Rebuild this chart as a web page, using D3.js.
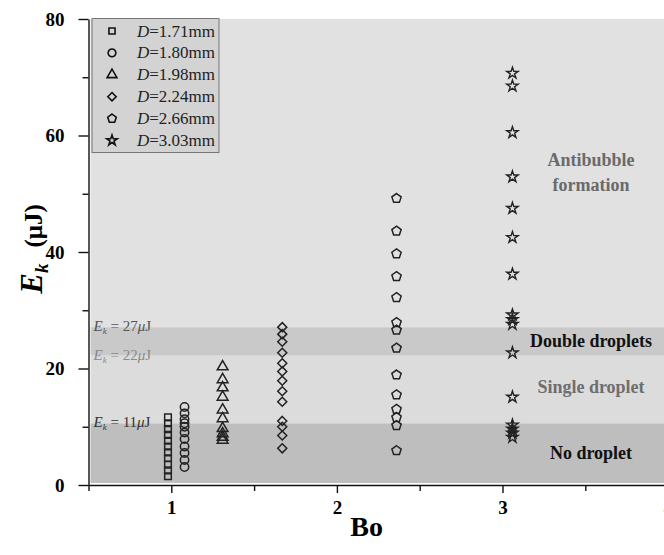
<!DOCTYPE html>
<html>
<head>
<meta charset="utf-8">
<script src="https://cdn.jsdelivr.net/npm/d3@7"></script>
<style>
  html, body { margin: 0; padding: 0; background: #fff; }
  svg { display: block; }
  svg text { font-family: "Liberation Serif", "DejaVu Serif", serif; }
</style>
</head>
<body>
<svg id="chart" width="664" height="555"></svg>
<script>
// droplet diameters (mm) and Bo position of each column
const diameters = ["1.71", "1.80", "1.98", "2.24", "2.66", "3.03"]
const boValues = [0.98, 1.08, 1.31, 1.67, 2.36, 3.06]

// kinetic energy readings Ek (uJ) per diameter
const ek171 = [11.6, 10.6, 9.6, 8.6, 7.6, 6.6, 5.6, 4.6, 3.5, 2.5, 1.5]
const ek180 = [13.4, 12.3, 11.3, 10.6, 10.0, 9.0, 7.9, 6.6, 5.5, 4.3, 3.1]
const ek198 = [20.3, 18.1, 16.7, 15.1, 12.9, 11.4, 9.7, 8.8, 8.2, 7.7]
const ek224 = [27.1, 25.9, 24.6, 22.7, 20.9, 19.5, 17.9, 16.1, 14.3, 11.0, 10.0, 8.5, 6.3]
const ek266 = [49.2, 43.6, 39.7, 35.8, 32.2, 27.9, 26.6, 23.5, 18.9, 15.5, 13.0, 11.6, 10.2, 5.9]
const ek303 = [70.7, 68.5, 60.5, 52.9, 47.5, 42.5, 36.2, 29.2, 28.4, 27.6, 22.7, 15.1, 10.3, 9.6, 8.9, 8.2]
const ekSeries = [ek171, ek180, ek198, ek224, ek266, ek303]

// regime bands (uJ)
const bandEdges = [0, 10.6, 22.2, 27.1, 80]
const bandNames = ["No droplet", "Single droplet", "Double droplets", "Antibubble formation"]
const thresholdLabels = ["27", "22", "11"]
const thresholdValues = [27.1, 22.2, 10.6]

const yTicks = [0, 20, 40, 60, 80]
const yMinor = [10, 30, 50, 70]
const xTicks = [1, 2, 3, 4]
const xMinor = [0.5, 1.5, 2.5, 3.5]

const W = 664, H = 555
const margin = { left: 88.5, top: 19, bottom: 70 }

const svg = d3.select("#chart")

const x = d3.scaleLinear().domain([0.5, 4.05]).range([margin.left, margin.left + 3.55 * 165.6])
const y = d3.scaleLinear().domain([0, 80]).range([H - margin.bottom, margin.top])

const bandFill = ["#bebebe", "#dcdcdc", "#c9c9c9", "#e1e1e1"]

// plot background bands
svg.append("g").selectAll("rect")
  .data(bandNames)
  .join("rect")
  .attr("x", x(0.5) + 2)
  .attr("width", W)
  .attr("y", (d, i) => y(bandEdges[i + 1]))
  .attr("height", (d, i) => y(bandEdges[i]) - y(bandEdges[i + 1]) - (i === 0 ? 2 : 0))
  .attr("fill", (d, i) => bandFill[i])

// threshold labels at left
const thColors = ["#555", "#8a8a8a", "#333"]
const th = svg.append("g")
thresholdValues.forEach((v, i) => {
  const t = th.append("text")
    .attr("x", x(0.5) + 5)
    .attr("y", y(v) + 4)
    .attr("fill", thColors[i])
    .style("font-size", "15px")
  t.append("tspan").attr("font-style", "italic").text("E")
  t.append("tspan").attr("font-style", "italic").attr("dy", 3).style("font-size", "9px").text("k")
  t.append("tspan").attr("dy", -3).text(" = " + thresholdLabels[i])
  t.append("tspan").attr("font-style", "italic").text("μ")
  t.append("tspan").text("J")
})

// region labels
const regionColor = ["#111", "#6e6e6e", "#111", "#6a6a6a"]
const regionY = [453, 387, 341, null]
bandNames.forEach((name, i) => {
  const t = svg.append("text")
    .attr("x", 591)
    .attr("text-anchor", "middle")
    .attr("font-weight", "bold")
    .attr("fill", regionColor[i])
    .style("font-size", "18px")
  if (regionY[i] !== null) {
    t.attr("y", regionY[i] + 6).text(name)
  } else {
    const parts = name.split(" ")
    t.append("tspan").attr("x", 591).attr("y", 166).text(parts[0])
    t.append("tspan").attr("x", 591).attr("y", 191).text(parts[1])
  }
})

// axes
svg.append("g")
  .attr("transform", `translate(${margin.left},0)`)
  .call(d3.axisLeft(y).tickValues(yTicks).tickSize(10).tickSizeOuter(0).tickPadding(14))
svg.append("g")
  .attr("transform", `translate(${margin.left},0)`)
  .call(d3.axisLeft(y).tickValues(yMinor).tickSize(6).tickFormat("").tickSizeOuter(0))
  .select(".domain").remove()

svg.append("g")
  .attr("transform", `translate(0,${y(0)})`)
  .call(d3.axisBottom(x).tickValues(xTicks).tickFormat(d3.format("d")).tickSize(8).tickSizeOuter(0).tickPadding(8))
svg.append("g")
  .attr("transform", `translate(0,${y(0)})`)
  .call(d3.axisBottom(x).tickValues(xMinor).tickSize(6).tickFormat("").tickSizeOuter(0))
  .select(".domain").remove()

svg.selectAll(".tick text")
  .attr("font-weight", "bold")
  .style("font-size", "19px")
  .attr("fill", "#000")
svg.selectAll(".domain, .tick line").attr("stroke", "#111").attr("stroke-width", 1.4)

// axis titles
svg.append("text")
  .attr("x", x(2.18))
  .attr("y", 536)
  .attr("text-anchor", "middle")
  .attr("font-weight", "bold")
  .style("font-size", "28px")
  .text("Bo")

const yt = svg.append("text")
  .attr("transform", "translate(42,249) rotate(-90)")
  .attr("text-anchor", "middle")
  .attr("font-weight", "bold")
yt.append("tspan").attr("font-style", "italic").style("font-size", "31px").text("E")
yt.append("tspan").attr("font-style", "italic").attr("dy", 6).style("font-size", "19px").text("k")
yt.append("tspan").attr("dy", -6).attr("dx", 16).style("font-size", "25px").text("(μJ)")

// marker shapes
const pentagon = {
  draw(ctx, size) {
    const r = Math.sqrt(size) * 0.62
    for (let k = 0; k < 5; k++) {
      const a = -Math.PI / 2 + k * 2 * Math.PI / 5
      if (k === 0) ctx.moveTo(r * Math.cos(a), r * Math.sin(a))
      else ctx.lineTo(r * Math.cos(a), r * Math.sin(a))
    }
    ctx.closePath()
  }
}
const diamond = d3.symbolDiamond2 || d3.symbolDiamond
const shapes = [d3.symbolSquare, d3.symbolCircle, d3.symbolTriangle, diamond, pentagon, d3.symbolStar]
const sizes = [44, 55, 50, 52, 62, 40]

ekSeries.forEach((vals, i) => {
  svg.append("g").selectAll("path")
    .data(vals)
    .join("path")
    .attr("transform", d => `translate(${x(boValues[i])},${y(d)})`)
    .attr("d", d3.symbol().type(shapes[i]).size(sizes[i]))
    .attr("fill", "none")
    .attr("stroke", "#222")
    .attr("stroke-width", i === 5 ? 1.4 : 1.5)
})

// legend
const lg = svg.append("g")
lg.append("rect")
  .attr("x", 92).attr("y", 18.5)
  .attr("width", 127).attr("height", 134)
  .attr("fill", "#d3d3d3")
  .attr("stroke", "#777").attr("stroke-width", 1)
diameters.forEach((dm, i) => {
  const ry = 31 + i * 21.9
  lg.append("path")
    .attr("transform", `translate(112,${ry})`)
    .attr("d", d3.symbol().type(shapes[i]).size(sizes[i] * 0.85))
    .attr("fill", "none")
    .attr("stroke", "#111")
    .attr("stroke-width", 1.6)
  const t = lg.append("text")
    .attr("x", 137).attr("y", ry + 5.5)
    .style("font-size", "17px")
    .attr("fill", "#222")
  t.append("tspan").attr("font-style", "italic").text("D")
  t.append("tspan").text("=" + dm + "mm")
})
</script>
</body>
</html>
